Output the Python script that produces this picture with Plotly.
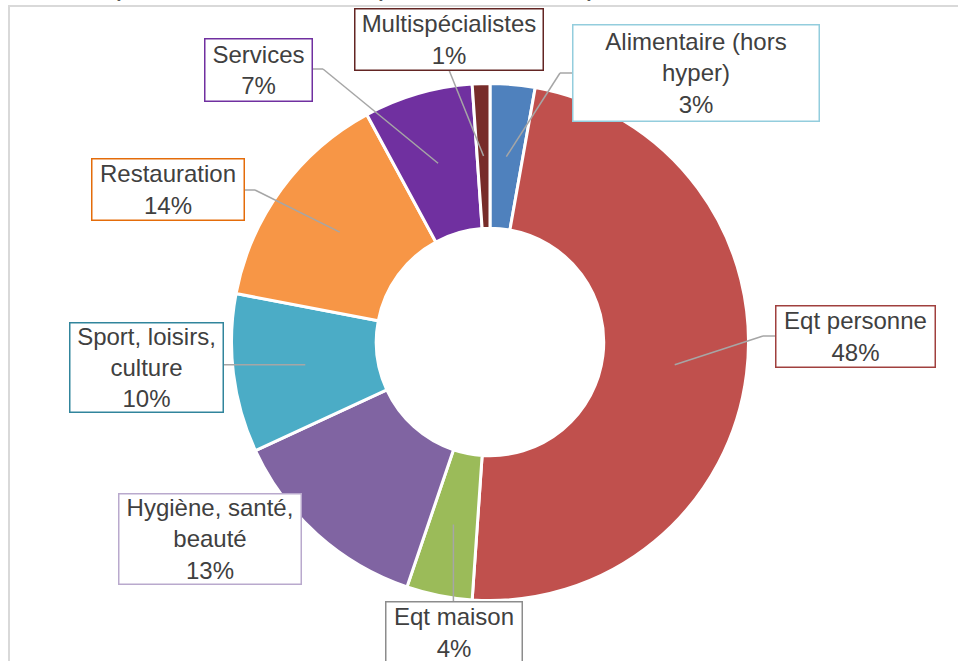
import math
import plotly.graph_objects as go

# Secteurs, dans l'ordre horaire depuis midi
labels = ["Alimentaire (hors hyper)", "Eqt personne", "Eqt maison", "Hygiène, santé, beauté",
          "Sport, loisirs, culture", "Restauration", "Services", "Multispécialistes"]
label_lines = ["Alimentaire (hors<br>hyper)", "Eqt personne", "Eqt maison", "Hygiène, santé,<br>beauté",
               "Sport, loisirs,<br>culture", "Restauration", "Services", "Multispécialistes"]
values = [2.8, 48.3, 4.1, 12.9, 9.9, 14.1, 6.8, 1.1]

slice_colors = ["#4F81BD", "#C0504D", "#9BBB59", "#8064A2", "#4BACC6", "#F79646", "#7030A0", "#772C2A"]
box_colors = ["#93CDDD", "#A0403E", "#8C8C8C", "#B9A9CD", "#31859C", "#E46C0A", "#7030A0", "#632523"]

W, H = 958, 661
CX, CY, R, HOLE = 490, 342, 258.5, 0.44

# label boxes: centre x, centre y, width, height (pixels)
boxes = [(695.5, 73.5, 247, 97), (855, 336, 160, 62), (453.5, 632, 137, 62), (209.5, 538.5, 183, 91),
         (146, 367, 154, 90), (167.5, 190, 153, 62), (258, 69.5, 108, 63), (448.5, 39, 189, 62)]
# leader line end points (pixels), None = no line
leader_ends = [[(560, 73), (572, 73)], [(763, 336), (775, 336)], "down", None,
               [(223, None)], [(255, 190), (245, 190)], [(323, 69), (312, 69)], [(449, 70)]]


def px(x, y):
    return x / W, 1 - y / H


fig = go.Figure(go.Pie(
    labels=labels, values=values, sort=False, direction="clockwise", rotation=0,
    hole=HOLE, textinfo="none", showlegend=False,
    marker=dict(colors=slice_colors, line=dict(color="white", width=3)),
    domain=dict(x=[(CX - R) / W, (CX + R) / W], y=[(H - CY - R) / H, (H - CY + R) / H]),
))

shapes = []
# chart area border
x0, y0 = px(9, 6)
x1, y1 = px(990, 700)
shapes.append(dict(type="rect", xref="paper", yref="paper", x0=x0, y0=y1, x1=x1, y1=y0,
                   line=dict(color="#D9D9D9", width=2)))

total = sum(values)
cum = 0
r_mid = R * (1 + HOLE) / 2
for i, v in enumerate(values):
    ang = math.radians((cum + v / 2) / total * 360)
    cum += v
    sx, sy = CX + r_mid * math.sin(ang), CY - r_mid * math.cos(ang)
    ends = leader_ends[i]
    if ends is None:
        continue
    if ends == "down":
        ends = [(sx, boxes[i][1] - boxes[i][3] / 2)]
    pts = [(sx, sy)] + [(ex, sy if ey is None else ey) for ex, ey in ends]
    for (ax, ay), (bx, by) in zip(pts[:-1], pts[1:]):
        a, b = px(ax, ay), px(bx, by)
        shapes.append(dict(type="line", xref="paper", yref="paper", x0=a[0], y0=a[1], x1=b[0], y1=b[1],
                           line=dict(color="#A6A6A6", width=1.5)))

annotations = []
for i, txt in enumerate(label_lines):
    bx, by, bw, bh = boxes[i]
    ax, ay = px(bx, by)
    annotations.append(dict(
        text=f"{txt}<br>{round(values[i] / total * 100)}%", x=ax, y=ay, xref="paper", yref="paper",
        xanchor="center", yanchor="middle", showarrow=False, align="center",
        width=bw - 2, height=bh - 2, borderpad=0, bgcolor="white",
        bordercolor=box_colors[i], borderwidth=1.5,
        font=dict(family="Liberation Sans, Arial", size=24, color="#404040"),
    ))

# titre, coupé en haut de l'image
annotations.append(dict(
    text="<b>Répartition des établissements par activité dans les espaces commerciaux du centre</b>",
    x=px(475, 0)[0], y=1 + 1 / H, xref="paper", yref="paper", xanchor="center", yanchor="top",
    yshift=21, showarrow=False, font=dict(family="Liberation Sans, Arial", size=19, color="#595959"),
))

fig.update_layout(
    width=W, height=H, margin=dict(l=0, r=0, t=0, b=0),
    paper_bgcolor="white", plot_bgcolor="white",
    shapes=shapes, annotations=annotations,
)

fig.write_html("out.html", config={"displayModeBar": False},
               post_script="document.body.style.margin='0';")
